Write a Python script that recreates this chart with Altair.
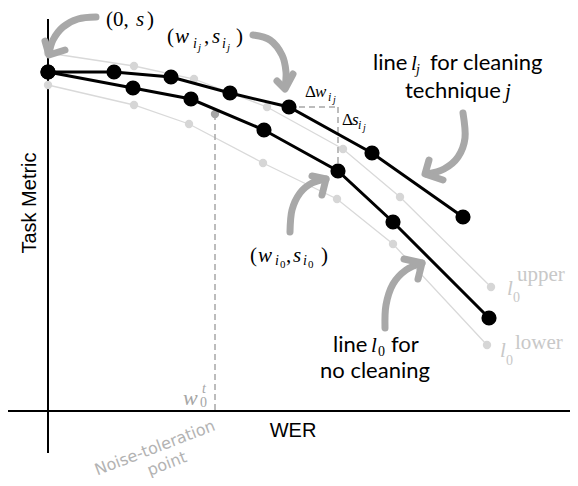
import altair as alt
import pandas as pd

# ---- data (x = WER units, y = task-metric units; origin at the axis crossing) ----
lj_wer = [0, 66, 123, 182, 241, 324, 415]
lj_metric = [339, 339, 334, 318, 304, 258, 194]
l0_wer = [0, 85, 143, 216, 290, 345, 441]
l0_metric = [339, 323, 312, 281, 240, 189, 93]
up_wer = [0, 86, 146, 219, 295, 352, 443]
up_metric = [358, 345, 332, 304, 262, 214, 124]
lo_wer = [0, 86, 141, 215, 289, 345, 439]
lo_metric = [326, 306, 287, 248, 212, 167, 66]

noise_wer = [167]
noise_metric = [297]

# axis lines (x, y, x2, y2)
axis_x = [0, -40]
axis_y = [392, 0]
axis_x2 = [0, 522]
axis_y2 = [-42, 0]

# dashed helper lines
dash_x = [241, 290, 167]
dash_y = [304, 304, 297]
dash_x2 = [290, 290, 167]
dash_y2 = [304, 240, 0]

# curved arrows (shaft control points) and chevron heads
arrow_shafts = {
    "a1": ([48, 30, 15, 5, 1], [394, 392, 384, 371, 357]),
    "a2": ([205, 222, 234, 238, 237], [376, 371, 356, 339, 323]),
    "a3": ([415, 417, 410, 396, 379], [298, 273, 254, 242, 237]),
    "a4": ([242, 244, 252, 264, 278], [179, 201, 218, 228, 232]),
    "a5": ([337, 338, 345, 358, 374], [83, 106, 127, 141, 148]),
}
arrow_heads = {
    "a1": ([-3, 1, 17], [370, 356, 361]),
    "a2": ([229, 237, 245], [330, 322, 337]),
    "a3": ([381, 377, 395], [251, 237, 231]),
    "a4": ([264, 278, 274], [235, 232, 216]),
    "a5": ([356, 374, 370], [152, 148, 132]),
}

# text runs: x, y, text, style
run_x = [58, 88, 99,
         119, 127, 145, 150, 156, 164, 174, 179, 188,
         257, 267, 280, 285,
         294, 304, 310, 315,
         202, 210, 227, 232, 238, 245, 255, 260, 273,
         325, 363, 368, 382, 357, 457,
         285, 323, 330, 343, 272,
         459, 465, 469, 452, 458, 467,
         135, 154, 152]
run_y = [385, 385, 385,
         368, 368, 363, 360, 368, 368, 363, 360, 368,
         314, 314, 310, 308,
         286, 286, 282, 280,
         149, 149, 146, 143, 149, 149, 146, 143, 149,
         341, 341, 337, 341, 313, 313,
         59, 59, 55, 59, 33,
         116, 109, 130, 54, 46, 62,
         6, 18, 4]
run_text = ["(0,", "s", ")",
            "(", "w", "i", "j", ",", "s", "i", "j", ")",
            "Δ", "w", "i", "j",
            "Δ", "s", "i", "j",
            "(", "w", "i", "0", ",", "s", "i", "0", ")",
            "line", "l", "j", "for cleaning", "technique", "j",
            "line", "l", "0", "for", "no cleaning",
            "l", "0", "upper", "l", "0", "lower",
            "w", "t", "0"]
run_style = ["mup", "mit", "mup",
             "mup", "mit", "msub", "msub2", "mup", "mit", "msub", "msub2", "mup",
             "sup", "sit", "ssub", "ssub2",
             "sup", "sit", "ssub", "ssub2",
             "mup", "mit", "msub", "msub2up", "mup", "mit", "msub", "msub2up", "mup",
             "sans", "mit", "msub", "sans", "sans", "mit",
             "sans", "mit", "msubup", "sans", "sans",
             "git", "gsub", "gup", "git", "gsub", "gup",
             "wit", "wsub", "wsubup"]

styles = {
    "mup": dict(font="Liberation Serif", fontSize=21, fontStyle="normal", color="#000000"),
    "mit": dict(font="Liberation Serif", fontSize=21, fontStyle="italic", color="#000000"),
    "msub": dict(font="Liberation Serif", fontSize=14, fontStyle="italic", color="#000000"),
    "msubup": dict(font="Liberation Serif", fontSize=14, fontStyle="normal", color="#000000"),
    "msub2": dict(font="Liberation Serif", fontSize=11, fontStyle="italic", color="#000000"),
    "msub2up": dict(font="Liberation Serif", fontSize=11, fontStyle="normal", color="#000000"),
    "sup": dict(font="Liberation Serif", fontSize=17, fontStyle="normal", color="#000000"),
    "sit": dict(font="Liberation Serif", fontSize=17, fontStyle="italic", color="#000000"),
    "ssub": dict(font="Liberation Serif", fontSize=12, fontStyle="italic", color="#000000"),
    "ssub2": dict(font="Liberation Serif", fontSize=10, fontStyle="italic", color="#000000"),
    "sans": dict(font="Lato", fontSize=22, fontStyle="normal", color="#000000"),
    "git": dict(font="Liberation Serif", fontSize=21, fontStyle="italic", color="#c8c8c8"),
    "gsub": dict(font="Liberation Serif", fontSize=14, fontStyle="normal", color="#c8c8c8"),
    "gup": dict(font="Liberation Serif", fontSize=21, fontStyle="normal", color="#c8c8c8"),
    "wit": dict(font="Liberation Serif", fontSize=22, fontStyle="italic", color="#a6a6a6"),
    "wsub": dict(font="Liberation Serif", fontSize=14, fontStyle="italic", color="#a6a6a6"),
    "wsubup": dict(font="Liberation Serif", fontSize=14, fontStyle="normal", color="#a6a6a6"),
}

# axis titles / rotated notes: x, y, text, angle
lab_x = [-18, 245]
lab_y = [208, -20]
lab_text = ["Task Metric", "WER"]
lab_angle = [270, 0]

note_x = [107, 119]
note_y = [-37, -53]
note_text = ["Noise-toleration", "point"]

# ---- build tables ----
XS = alt.Scale(domain=[-40, 522], nice=False, zero=False)
YS = alt.Scale(domain=[-67, 403], nice=False, zero=False)


def X(f="x"):
    return alt.X(f + ":Q", scale=XS, axis=None)


def Y(f="y"):
    return alt.Y(f + ":Q", scale=YS, axis=None)


def series(name, xs, ys):
    return pd.DataFrame({"x": xs, "y": ys, "s": name})


gray_df = pd.concat([series("upper", up_wer, up_metric), series("lower", lo_wer, lo_metric)])
black_df = pd.concat([series("lj", lj_wer, lj_metric), series("l0", l0_wer, l0_metric)])
axis_df = pd.DataFrame({"x": axis_x, "y": axis_y, "x2": axis_x2, "y2": axis_y2})
dash_df = pd.DataFrame({"x": dash_x, "y": dash_y, "x2": dash_x2, "y2": dash_y2})
noise_df = pd.DataFrame({"x": noise_wer, "y": noise_metric})


def path_df(d):
    rows = []
    for k, (xs, ys) in d.items():
        for i, (a, b) in enumerate(zip(xs, ys)):
            rows.append({"x": a, "y": b, "id": k, "seq": i})
    return pd.DataFrame(rows)


shaft_df = path_df(arrow_shafts)
head_df = path_df(arrow_heads)
runs_df = pd.DataFrame({"x": run_x, "y": run_y, "text": run_text, "style": run_style})
lab_df = pd.DataFrame({"x": lab_x, "y": lab_y, "text": lab_text, "angle": lab_angle})
note_df = pd.DataFrame({"x": note_x, "y": note_y, "text": note_text})

GRAY_ARROW = "#a8a8a8"

layers = []
layers.append(alt.Chart(axis_df).mark_rule(color="#000000", strokeWidth=2).encode(
    x=X(), y=Y(), x2="x2:Q", y2="y2:Q"))
layers.append(alt.Chart(gray_df).mark_line(color="#d9d9d9", strokeWidth=1.3).encode(
    x=X(), y=Y(), detail="s:N"))
layers.append(alt.Chart(gray_df).mark_circle(color="#d6d6d6", size=70, opacity=1).encode(
    x=X(), y=Y()))
layers.append(alt.Chart(dash_df).mark_rule(color="#a6a6a6", strokeWidth=1.5, strokeDash=[6, 4]).encode(
    x=X(), y=Y(), x2="x2:Q", y2="y2:Q"))
layers.append(alt.Chart(noise_df).mark_circle(color="#a6a6a6", size=70, opacity=1).encode(
    x=X(), y=Y()))
layers.append(alt.Chart(black_df).mark_line(color="#000000", strokeWidth=3).encode(
    x=X(), y=Y(), detail="s:N"))
layers.append(alt.Chart(black_df).mark_circle(color="#000000", size=230, opacity=1).encode(
    x=X(), y=Y()))
layers.append(alt.Chart(shaft_df).mark_line(color=GRAY_ARROW, strokeWidth=7, strokeCap="round",
                                            interpolate="cardinal").encode(
    x=X(), y=Y(), detail="id:N", order="seq:Q"))
layers.append(alt.Chart(head_df).mark_line(color=GRAY_ARROW, strokeWidth=7, strokeCap="round",
                                           strokeJoin="round").encode(
    x=X(), y=Y(), detail="id:N", order="seq:Q"))

for name, st in styles.items():
    layers.append(alt.Chart(runs_df).transform_filter(alt.datum.style == name).mark_text(
        align="left", baseline="alphabetic", **st).encode(x=X(), y=Y(), text="text:N"))

for i in range(len(lab_text)):
    layers.append(alt.Chart(lab_df.iloc[[i]]).mark_text(
        align="center", baseline="middle", font="Liberation Sans", fontSize=20,
        color="#000000", angle=lab_angle[i]).encode(x=X(), y=Y(), text="text:N"))

layers.append(alt.Chart(note_df).mark_text(
    align="center", baseline="middle", font="DejaVu Sans", fontSize=16,
    color="#b3b3b3", angle=339).encode(x=X(), y=Y(), text="text:N"))

chart = alt.layer(*layers).properties(
    width=562, height=470, padding=0, autosize=alt.AutoSizeParams(type="none")
).configure_view(stroke=None)

chart.save("out.html", embed_options={"renderer": "svg", "actions": False})
